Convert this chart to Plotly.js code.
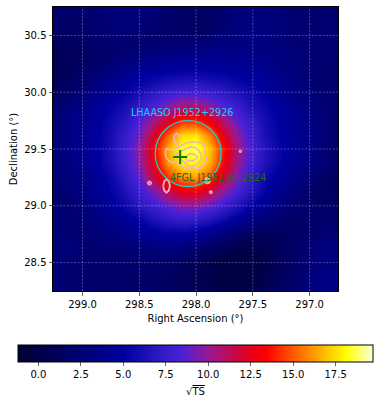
<!DOCTYPE html>
<html>
<head>
<meta charset="utf-8">
<script src="https://cdn.plot.ly/plotly-3.0.1.min.js"></script>
<style>html,body{margin:0;padding:0;background:#fff}</style>
</head>
<body>
<div id="chart" style="width:381px;height:406px"></div>
<script>
const W = 381, H = 406;

// TS map grid, deg
const raGrid = [299.25,299.125,299.0,298.875,298.75,298.625,298.5,298.375,298.25,298.125,298.0,297.875,297.75,297.625,297.5,297.375,297.25,297.125,297.0,296.875,296.75];
const decGrid = [28.25,28.375,28.5,28.625,28.75,28.875,29.0,29.125,29.25,29.375,29.5,29.625,29.75,29.875,30.0,30.125,30.25,30.375,30.5,30.625,30.75];
const sqrtTs = [
  [2.4,2.2,2.0,1.8,1.8,1.8,1.8,1.6,1.4,1.2,0.8,0.4,0.0,-0.2,0.2,0.8,1.6,2.2,3.0,3.4,3.6],
  [2.4,2.2,2.0,1.8,1.8,1.8,1.8,1.6,1.4,1.0,0.6,0.2,-0.2,-0.4,-0.2,0.4,1.2,2.0,2.8,3.2,3.6],
  [2.4,2.4,2.2,2.0,2.0,2.0,2.0,1.8,1.6,1.2,0.8,0.2,-0.2,-0.4,-0.2,0.2,1.0,1.8,2.6,3.0,3.2],
  [2.6,2.6,2.4,2.2,2.2,2.2,2.6,2.8,2.8,2.6,2.0,1.2,0.6,0.2,0.2,0.6,1.2,1.8,2.4,2.8,3.0],
  [2.6,2.4,2.4,2.6,3.0,3.6,4.2,4.6,5.0,5.0,4.6,3.8,2.8,1.8,1.2,1.0,1.2,1.6,2.0,2.4,2.6],
  [2.4,2.4,2.6,3.0,3.6,4.4,5.2,6.2,7.0,7.4,7.2,6.4,5.6,4.4,3.2,2.4,1.8,1.6,1.8,2.0,2.2],
  [2.2,2.2,2.8,3.6,4.6,5.6,6.8,7.8,8.8,9.6,9.6,8.8,7.6,6.4,5.0,3.8,2.8,2.2,1.8,1.6,1.8],
  [2.2,2.4,3.2,4.2,5.2,6.4,7.8,9.2,11.2,12.6,12.8,11.4,9.6,8.0,6.4,5.0,3.6,2.8,1.8,1.4,1.4],
  [2.4,2.8,3.4,4.4,5.6,7.0,8.8,11.6,14.4,16.0,16.2,14.8,11.8,9.2,7.0,5.6,4.4,3.4,2.4,1.6,1.2],
  [2.6,3.2,4.0,5.0,6.2,7.6,9.6,12.6,16.2,18.0,18.2,16.6,13.2,9.8,7.8,6.2,5.2,4.2,3.4,2.4,1.8],
  [2.6,3.2,4.0,5.0,6.2,7.8,9.8,13.0,16.6,18.6,18.8,17.0,13.6,10.2,8.0,6.4,5.3,4.2,3.4,2.4,1.8],
  [2.4,3.2,4.0,4.9,6.0,7.4,9.2,12.0,15.2,17.4,17.6,15.6,12.4,9.6,7.6,6.0,5.0,4.2,3.4,2.4,1.8],
  [2.2,3.2,4.0,4.8,5.8,6.8,8.4,10.2,12.4,14.2,14.2,12.8,10.6,8.6,7.2,5.8,5.0,4.2,3.4,2.4,2.0],
  [1.8,2.8,3.6,4.4,5.2,6.0,7.2,8.4,9.6,10.6,10.6,9.8,8.6,7.4,6.2,5.4,4.6,3.8,3.0,2.4,2.2],
  [1.2,1.8,2.8,3.6,4.4,5.2,6.0,6.8,7.6,8.0,8.0,7.6,7.0,6.2,5.6,4.8,4.0,3.2,2.6,2.2,2.2],
  [0.8,1.2,2.0,2.8,3.6,4.4,5.0,5.4,5.8,6.0,6.0,5.8,5.6,5.2,4.8,4.4,3.6,3.0,2.6,2.2,2.2],
  [0.8,1.0,1.4,2.0,2.6,3.2,3.6,4.0,4.2,4.6,4.6,4.6,4.4,4.2,4.0,3.6,3.2,2.8,2.4,2.2,2.4],
  [1.0,1.0,1.4,1.8,2.0,2.2,2.4,2.6,2.8,3.0,3.2,3.4,3.4,3.4,3.4,3.2,2.8,2.6,2.4,2.4,2.6],
  [1.4,1.4,1.8,2.2,2.4,2.4,2.2,2.0,1.8,1.8,1.8,2.0,2.6,3.0,3.2,3.0,2.6,2.4,2.4,2.4,2.6],
  [1.8,1.8,2.0,2.4,2.6,2.8,2.6,2.4,2.0,1.6,1.4,1.6,2.2,2.8,3.0,2.8,2.6,2.4,2.2,2.2,2.4],
  [2.0,2.0,2.2,2.4,2.6,2.8,2.8,2.6,2.2,1.8,1.6,1.8,2.2,2.6,2.8,2.6,2.4,2.2,2.0,2.2,2.4],
];

const zMin = -1.2, zMax = 19.7;
const raRange = [299.26, 296.75];
const decRange = [28.25, 30.75];
const raTicks = [299.0, 298.5, 298.0, 297.5, 297.0];
const decTicks = [28.5, 29.0, 29.5, 30.0, 30.5];

// radio contours
const contourRa = [
  298.27,298.26,298.23,298.17,298.11,298.04,297.96,297.91,297.92,297.93,297.99,298.04,298.09,298.15,298.21,298.26,298.27,null,
  298.17,298.11,298.04,297.98,297.95,297.98,298.05,298.11,298.15,298.17,null,
  298.09,298.04,297.99,298.02,298.08,298.09,
];
const contourDec = [
  29.476,29.42,29.39,29.38,29.34,29.32,29.34,29.40,29.46,29.535,29.56,29.56,29.55,29.52,29.49,29.50,29.476,null,
  29.46,29.49,29.52,29.49,29.43,29.375,29.345,29.39,29.42,29.46,null,
  29.43,29.46,29.43,29.40,29.40,29.43,
];
const ringRa = [
  298.195,298.188,298.17,298.152,298.145,298.152,298.17,298.188,298.195,null,
  298.29,298.28,298.26,298.24,298.23,298.24,298.26,298.28,298.29,
];
const ringDec = [
  29.59,29.625,29.64,29.625,29.59,29.555,29.54,29.555,29.59,null,
  29.175,29.215,29.235,29.215,29.175,29.135,29.115,29.135,29.175,
];
const blobRa = [298.41, 297.90, 297.87, 297.61];
const blobDec = [29.20, 29.22, 29.12, 29.48];
const blobSize = [4, 6, 3, 2.5];

const lhaasoRa = 298.07, lhaasoDec = 29.46, lhaasoRadius = 0.29;
const fermiRa = [298.14], fermiDec = [29.43];

const colorStops = [
  [0, '#000033'], [0.19, '#00007a'], [0.3, '#0000a0'], [0.39, '#2a18c0'], [0.46, '#4a20d8'],
  [0.54, '#9a1890'], [0.65, '#e00020'], [0.7, '#ff0000'], [0.81, '#ff8000'], [0.925, '#ffff00'], [1, '#ffffe0'],
];
const pink = '#f6b4ac';

const traces = [
  {
    type: 'heatmap', x: raGrid, y: decGrid, z: sqrtTs, zmin: zMin, zmax: zMax,
    zsmooth: 'best', colorscale: colorStops, hoverinfo: 'skip',
    colorbar: {
      orientation: 'h', lenmode: 'pixels', len: 355, thicknessmode: 'pixels', thickness: 17,
      x: 18 / W, xanchor: 'left', xpad: 0, y: (H - 345) / H, yanchor: 'top', ypad: 0,
      outlinewidth: 1, outlinecolor: '#000', ticks: 'outside', ticklen: 3.5, tickwidth: 0.8,
      tick0: 0, dtick: 2.5, tickformat: '.1f', tickfont: { size: 10, color: '#000' },
    },
  },
  {
    type: 'scatter', mode: 'lines', x: contourRa, y: contourDec, hoverinfo: 'skip',
    line: { color: pink, width: 1.7, shape: 'spline', smoothing: 0.8 }, connectgaps: false,
  },
  {
    type: 'scatter', mode: 'lines', x: ringRa, y: ringDec, hoverinfo: 'skip',
    line: { color: pink, width: 1.8 }, connectgaps: false,
  },
  {
    type: 'scatter', mode: 'markers', x: blobRa, y: blobDec, hoverinfo: 'skip',
    marker: { color: pink, size: blobSize },
  },
  {
    type: 'scatter', mode: 'markers', x: fermiRa, y: fermiDec, hoverinfo: 'skip',
    marker: { symbol: 'cross-thin-open', size: 10, color: '#008000', line: { color: '#008000', width: 2 } },
  },
];

// matplotlib-style grid sits on top of the image, so shapes rather than axis gridlines
const gridLine = { color: 'rgba(255,255,255,0.4)', width: 0.7, dash: '2px,1.5px' };
const shapes = [
  ...raTicks.map(v => ({ type: 'line', xref: 'x', yref: 'y', x0: v, x1: v, y0: decRange[0], y1: decRange[1], line: gridLine })),
  ...decTicks.map(v => ({ type: 'line', xref: 'x', yref: 'y', x0: raRange[0], x1: raRange[1], y0: v, y1: v, line: gridLine })),
  {
    type: 'circle', xref: 'x', yref: 'y',
    x0: lhaasoRa + lhaasoRadius, x1: lhaasoRa - lhaasoRadius,
    y0: lhaasoDec - lhaasoRadius, y1: lhaasoDec + lhaasoRadius,
    line: { color: '#1fd0d0', width: 1.3 },
  },
];

const layout = {
  width: W, height: H,
  paper_bgcolor: '#fff', plot_bgcolor: '#fff',
  font: { family: 'DejaVu Sans, sans-serif', size: 10, color: '#000' },
  margin: { l: 0, r: 0, t: 0, b: 0, autoexpand: false },
  showlegend: false,
  xaxis: {
    domain: [53 / W, 338 / W], range: raRange, tickvals: raTicks, ticktext: raTicks.map(v => v.toFixed(1)),
    ticks: 'outside', ticklen: 3.5, tickwidth: 0.8, showgrid: false, zeroline: false,
    showline: true, mirror: true, linecolor: '#000', linewidth: 1,
    title: { text: 'Right Ascension (°)', standoff: 6, font: { size: 10 } },
  },
  yaxis: {
    domain: [(H - 291) / H, (H - 7) / H], range: decRange, tickvals: decTicks, ticktext: decTicks.map(v => v.toFixed(1)),
    ticks: 'outside', ticklen: 3.5, tickwidth: 0.8, showgrid: false, zeroline: false,
    showline: true, mirror: true, linecolor: '#000', linewidth: 1,
    title: { text: 'Declination (°)', standoff: 4, font: { size: 10 } },
  },
  shapes,
  annotations: [
    { x: 298.59, y: 29.825, xref: 'x', yref: 'y', xanchor: 'left', yanchor: 'middle', showarrow: false,
      text: 'LHAASO J1952+2926', font: { size: 9.6, color: '#10d0ff' } },
    { x: 298.25, y: 29.25, xref: 'x', yref: 'y', xanchor: 'left', yanchor: 'middle', showarrow: false,
      text: '4FGL J1952.8+2924', font: { size: 9.6, color: '#1d6b12' } },
    // colorbar label, placed by hand because the colorbar title sits too close to its ticks
    { x: 195 / W, y: (H - 391) / H, xref: 'paper', yref: 'paper', xanchor: 'center', yanchor: 'middle', showarrow: false,
      text: "√<span style='text-decoration:overline'>TS</span>", font: { size: 10, color: '#000' } },
  ],
};

Plotly.newPlot('chart', traces, layout, { displayModeBar: false, staticPlot: true });
</script>
</body>
</html>
